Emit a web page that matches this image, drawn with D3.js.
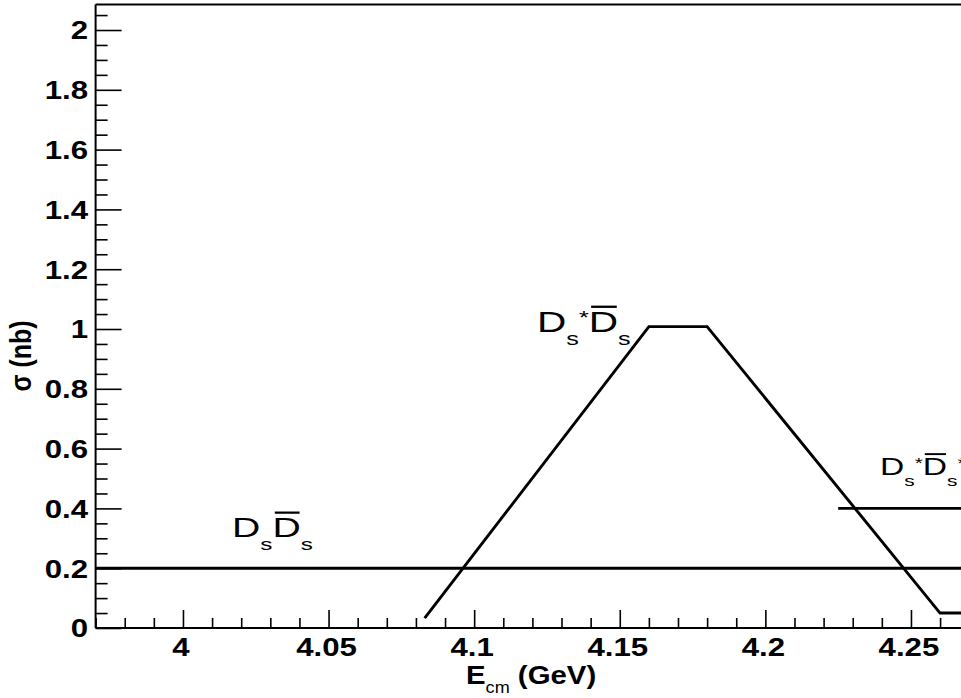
<!DOCTYPE html>
<html><head><meta charset="utf-8">
<script src="https://cdn.jsdelivr.net/npm/d3@7"></script>
<style>body{margin:0;background:#fff}svg{display:block}</style>
</head><body>
<svg id="c" width="961" height="698"></svg>
<script>
// ---- data ----
const xMajorTicks = [4, 4.05, 4.1, 4.15, 4.2, 4.25];
const xTickLabels = ["4", "4.05", "4.1", "4.15", "4.2", "4.25"];
const yMajorTicks = [0, 0.2, 0.4, 0.6, 0.8, 1, 1.2, 1.4, 1.6, 1.8, 2];
const yTickLabels = ["0", "0.2", "0.4", "0.6", "0.8", "1", "1.2", "1.4", "1.6", "1.8", "2"];
const dsdsE = [3.97, 4.27];
const dsdsSigma = [0.2, 0.2];
const dsStarDsE = [4.083, 4.16, 4.18, 4.26, 4.27];
const dsStarDsSigma = [0.033, 1.008, 1.008, 0.05, 0.05];
const dsStarDsStarE = [4.225, 4.27];
const dsStarDsStarSigma = [0.4, 0.4];
const xTitle = ["E", "cm", " (GeV)"];
const yTitle = "σ (nb)";

// ---- layout ----
const FONT = "'Liberation Sans', Arial, Helvetica, sans-serif";
const SX = 1.2;   // horizontal stretch of the axis text in the picture
const LSX = 1.4;  // horizontal stretch of the in-plot labels
const svg = d3.select("#c");
const x = d3.scaleLinear().domain([3.97, 4.27]).range([95.6, 969.2]);
const y = d3.scaleLinear().domain([0, 2.085]).range([628, 4.6]);

const xMinor = d3.range(0, 31).map(i => +(3.97 + i * 0.01).toFixed(2)).filter(v => !xMajorTicks.includes(v));
const yMinor = d3.range(0, 42).map(i => +(i * 0.05).toFixed(2)).filter(v => !yMajorTicks.some(m => Math.abs(m - v) < 1e-9));

function tickAxis(axis) {
  return g => {
    g.call(axis);
    g.select(".domain").remove();
    g.selectAll("line").attr("stroke", "#000").attr("stroke-width", 1.6);
    g.selectAll("text").remove();
  };
}
// x ticks (inward)
svg.append("g").attr("transform", `translate(0,${y(0)})`)
  .call(tickAxis(d3.axisBottom(x).tickValues(xMinor).tickSize(-10).tickFormat("")));
svg.append("g").attr("transform", `translate(0,${y(0)})`)
  .call(tickAxis(d3.axisBottom(x).tickValues(xMajorTicks).tickSize(-18).tickFormat("")));
// y ticks (inward)
svg.append("g").attr("transform", `translate(${x(3.97)},0)`)
  .call(tickAxis(d3.axisLeft(y).tickValues(yMinor).tickSize(-12).tickFormat("")));
svg.append("g").attr("transform", `translate(${x(3.97)},0)`)
  .call(tickAxis(d3.axisLeft(y).tickValues(yMajorTicks).tickSize(-26).tickFormat("")));

// frame
const fr = svg.append("g").attr("stroke", "#000").attr("stroke-width", 2).attr("fill", "none");
fr.append("line").attr("x1", x(3.97)).attr("x2", 961).attr("y1", y(0)).attr("y2", y(0));
fr.append("line").attr("x1", x(3.97)).attr("x2", x(3.97)).attr("y1", y(0)).attr("y2", y(2.085));
fr.append("line").attr("x1", x(3.97)).attr("x2", 961).attr("y1", y(2.085)).attr("y2", y(2.085));

// tick labels
yMajorTicks.forEach((v, i) => {
  svg.append("text")
    .attr("transform", `translate(88,${y(v)}) scale(${SX},1)`)
    .attr("text-anchor", "end").attr("dy", "0.36em")
    .attr("font-family", FONT).attr("font-weight", "bold").attr("font-size", 26)
    .text(yTickLabels[i]);
});
xMajorTicks.forEach((v, i) => {
  svg.append("text")
    .attr("transform", `translate(${x(v) - 2},656) scale(${SX},1)`)
    .attr("text-anchor", "middle")
    .attr("font-family", FONT).attr("font-weight", "bold").attr("font-size", 26)
    .text(xTickLabels[i]);
});

// axis titles
const xt = svg.append("text")
  .attr("transform", `translate(466,684) scale(1.13,1)`)
  .attr("font-family", FONT).attr("font-weight", "bold").attr("font-size", 26);
xt.append("tspan").text(xTitle[0]);
xt.append("tspan").attr("font-size", 16).attr("font-weight", "normal").attr("dy", 9).text(xTitle[1]);
xt.append("tspan").attr("dy", -9).text(xTitle[2]);

svg.append("text")
  .attr("transform", `translate(31,356) scale(${SX},1) rotate(-90)`)
  .attr("text-anchor", "middle")
  .attr("font-family", FONT).attr("font-weight", "bold").attr("font-size", 25)
  .text(yTitle);

// curves
const line = d3.line().x(d => x(d[0])).y(d => y(d[1]));
function drawSeries(E, S) {
  svg.append("path").datum(E.map((e, i) => [e, S[i]]))
    .attr("d", line).attr("fill", "none").attr("stroke", "#000")
    .attr("stroke-width", 2.9).attr("stroke-linejoin", "miter");
}
drawSeries(dsdsE, dsdsSigma);
drawSeries(dsStarDsE, dsStarDsSigma);
drawSeries(dsStarDsStarE, dsStarDsStarSigma);

// labels
function label(px, py, size, parts) {
  const g = svg.append("g").attr("transform", `translate(${px},${py}) scale(${LSX},1)`);
  const t = g.append("text").attr("font-family", FONT).attr("font-size", size);
  let idx = 0, cur = 0;
  const bars = [];
  parts.forEach(p => {
    const fs = p.k === "sub" ? size * 0.62 : p.k === "sup" ? size * 0.62 : size;
    const target = p.k === "sub" ? size * 0.45 : p.k === "sup" ? -size * 0.28 : 0;
    t.append("tspan").attr("font-size", fs).attr("dy", target - cur).text(p.t);
    cur = target;
    if (p.bar) bars.push([idx, idx + p.t.length - 1]);
    idx += p.t.length;
  });
  const n = t.node();
  bars.forEach(([a, b]) => {
    const x0 = n.getStartPositionOfChar(a).x, x1 = n.getEndPositionOfChar(b).x;
    g.append("line").attr("x1", x0 + size * 0.06).attr("x2", x1 - size * 0.03)
      .attr("y1", -size * 0.87).attr("y2", -size * 0.87)
      .attr("stroke", "#000").attr("stroke-width", size * 0.08);
  });
}
label(232, 537, 28, [{t: "D"}, {t: "s", k: "sub"}, {t: "D", bar: true}, {t: "s", k: "sub"}]);
label(537, 332, 29, [{t: "D"}, {t: "s", k: "sub"}, {t: "*", k: "sup"}, {t: "D", bar: true}, {t: "s", k: "sub"}]);
label(880, 475, 24, [{t: "D"}, {t: "s", k: "sub"}, {t: "*", k: "sup"}, {t: "D", bar: true}, {t: "s", k: "sub"}, {t: "*", k: "sup"}]);
</script>
</body></html>
